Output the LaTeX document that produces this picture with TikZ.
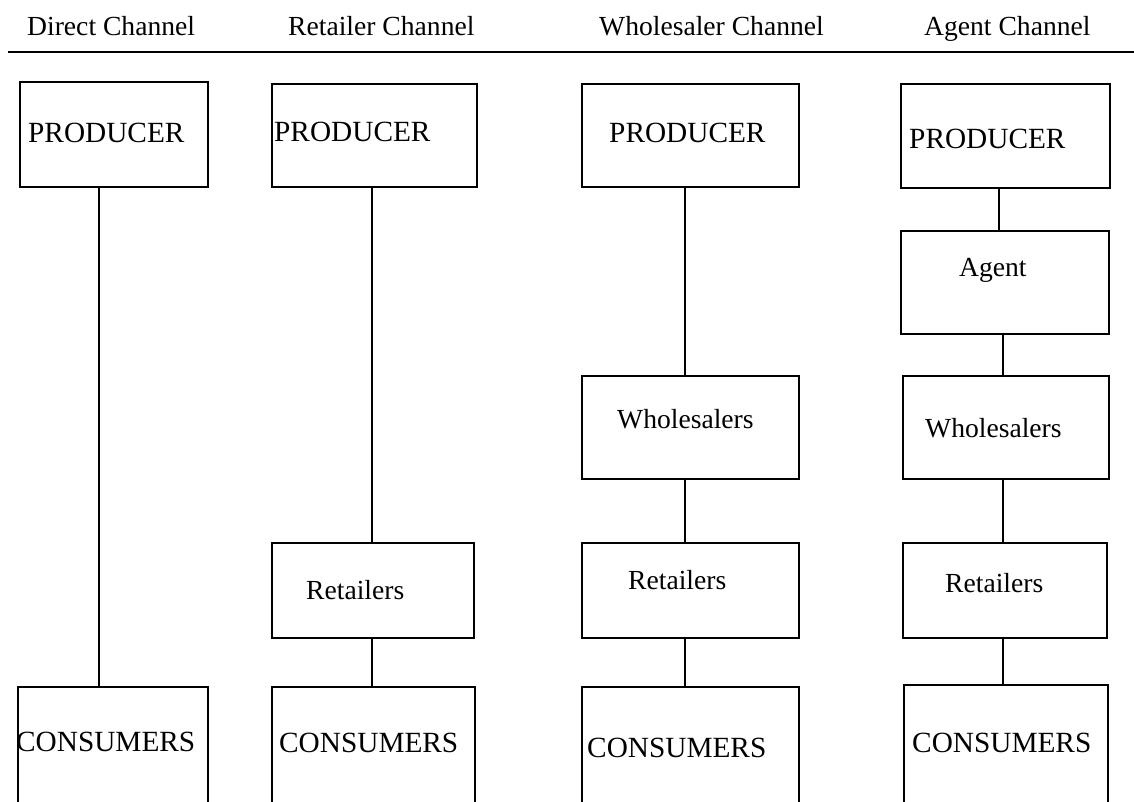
\documentclass[tikz,border=0pt]{standalone}
\usepackage{fontspec}
\setmainfont{Liberation Serif}
\begin{document}
\begin{tikzpicture}[x=1pt,y=-1pt,
  box/.style={draw, line width=1.8pt, inner sep=0pt, anchor=north west, rectangle},
  link/.style={line width=1.8pt},
  capt/.style={inner sep=0pt, anchor=base west, font=\fontsize{29.3}{34}\selectfont},
  lowt/.style={inner sep=0pt, anchor=base west, font=\fontsize{27.6}{33}\selectfont}]
\clip (0,0) rectangle (1134,801);
\fill[white] (0,0) rectangle (1134,801);
% header
\node[lowt] (h1) at (27,35) {Direct Channel};
\node[lowt] (h2) at (288,35) {Retailer Channel};
\node[lowt] (h3) at (599,35) {Wholesaler Channel};
\node[lowt] (h4) at (924,35) {Agent Channel};
\coordinate (hl) at (8,52);
\coordinate (hr) at (1140,52);
\draw[link] (hl) -- (hr);
% column 1
\node[box, minimum width=188pt, minimum height=105pt] (p1) at (19,81) {};
\node[box, minimum width=190pt, minimum height=150pt] (c1) at (17,686) {};
\node[capt] (tp1) at (28,142) {PRODUCER};
\node[capt] (tc1) at (16,751) {CONSUMERS};
\draw[link] (p1.south -| 99,0) -- (c1.north -| 99,0);
% column 2
\node[box, minimum width=205pt, minimum height=103pt] (p2) at (271,83) {};
\node[box, minimum width=202pt, minimum height=95pt] (r2) at (271,542) {};
\node[box, minimum width=203pt, minimum height=150pt] (c2) at (271,686) {};
\node[capt] (tp2) at (274,141) {PRODUCER};
\node[lowt] (tr2) at (306,599) {Retailers};
\node[capt] (tc2) at (279,752) {CONSUMERS};
\draw[link] (p2.south -| 372,0) -- (r2.north -| 372,0);
\draw[link] (r2.south -| 372,0) -- (c2.north -| 372,0);
% column 3
\node[box, minimum width=217pt, minimum height=103pt] (p3) at (581,83) {};
\node[box, minimum width=217pt, minimum height=103pt] (w3) at (581,375) {};
\node[box, minimum width=217pt, minimum height=95pt] (r3) at (581,542) {};
\node[box, minimum width=217pt, minimum height=150pt] (c3) at (581,686) {};
\node[capt] (tp3) at (609,142) {PRODUCER};
\node[lowt] (tw3) at (617,428) {Wholesalers};
\node[lowt] (tr3) at (628,589) {Retailers};
\node[capt] (tc3) at (587,757) {CONSUMERS};
\draw[link] (p3.south -| 685,0) -- (w3.north -| 685,0);
\draw[link] (w3.south -| 685,0) -- (r3.north -| 685,0);
\draw[link] (r3.south -| 685,0) -- (c3.north -| 685,0);
% column 4
\node[box, minimum width=209pt, minimum height=104pt] (p4) at (900,83) {};
\node[box, minimum width=208pt, minimum height=103pt] (a4) at (900,230) {};
\node[box, minimum width=206pt, minimum height=103pt] (w4) at (902,375) {};
\node[box, minimum width=204pt, minimum height=95pt] (r4) at (902,542) {};
\node[box, minimum width=204pt, minimum height=150pt] (c4) at (903,684) {};
\node[capt] (tp4) at (909,148) {PRODUCER};
\node[lowt] (ta4) at (959,276) {Agent};
\node[lowt] (tw4) at (925,437) {Wholesalers};
\node[lowt] (tr4) at (945,592) {Retailers};
\node[capt] (tc4) at (912,752) {CONSUMERS};
\draw[link] (p4.south -| 999,0) -- (a4.north -| 999,0);
\draw[link] (a4.south -| 1003,0) -- (w4.north -| 1003,0);
\draw[link] (w4.south -| 1003,0) -- (r4.north -| 1003,0);
\draw[link] (r4.south -| 1003,0) -- (c4.north -| 1003,0);
\end{tikzpicture}
\end{document}
